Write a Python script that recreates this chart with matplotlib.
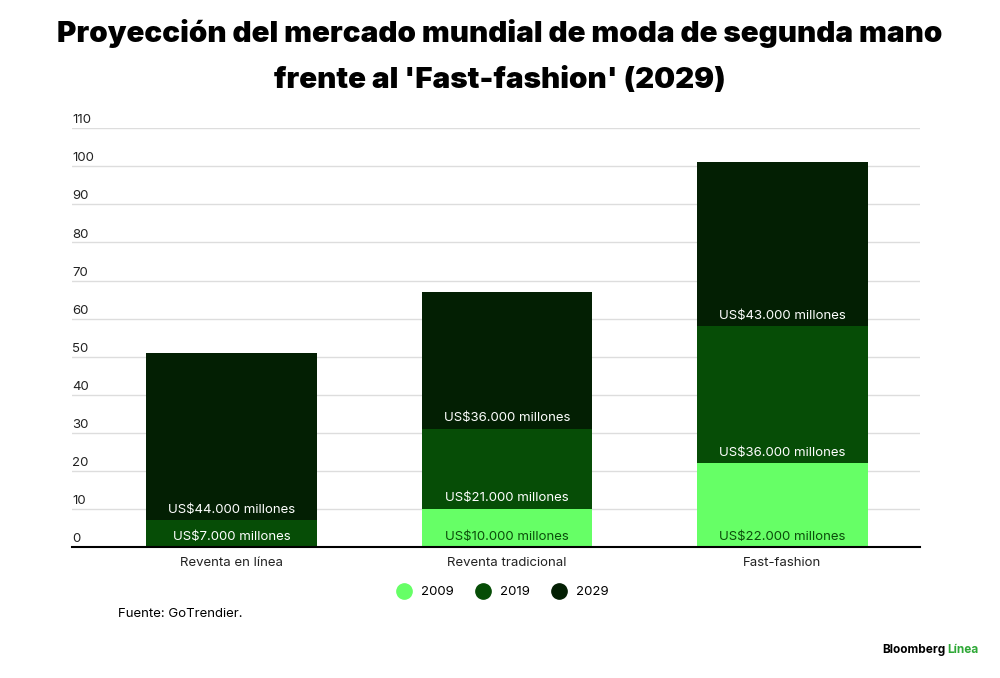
import matplotlib
matplotlib.use('Agg')
import matplotlib.pyplot as plt
import numpy as np

plt.rcParams['font.family'] = ['Inter', 'DejaVu Sans']

categories = ['Reventa en línea', 'Reventa tradicional', 'Fast-fashion']
years = ['2009', '2019', '2029']
v2009 = [0, 10, 22]
v2019 = [7, 21, 36]
v2029 = [44, 36, 43]
colors = ['#66ff66', '#064d06', '#031f03']
label_colors = ['#0b4d0b', 'white', 'white']

fig = plt.figure(figsize=(10, 6.78), dpi=100)
ax = fig.add_axes([0.072, 0.193, 0.848, 0.618])

x = np.arange(len(categories))
bottom = np.zeros(len(categories))
for vals, col, lc, yr in zip([v2009, v2019, v2029], colors, label_colors, years):
    vals = np.array(vals, dtype=float)
    ax.bar(x, vals, 0.62, bottom=bottom, color=col, label=yr, zorder=3)
    for xi, b, v in zip(x, bottom, vals):
        if v > 0:
            ax.text(xi, b + 1.2, 'US$%d.000 millones' % v, ha='center', va='bottom',
                    color=lc, fontsize=9.5, zorder=4)
    bottom += vals

ax.set_xlim(-0.58, 2.5)
ax.set_ylim(0, 110)
ax.set_yticks(range(0, 111, 10))
ax.set_yticklabels([])
for t in range(0, 111, 10):
    ax.text(-0.58, t + 0.5, str(t), ha='left', va='bottom', fontsize=9.5, color='#222222')
    if t > 0:
        ax.axhline(t, color='#dddddd', lw=1, zorder=1)
ax.tick_params(left=False, bottom=False)
ax.set_xticks(x)
ax.set_xticklabels(categories, fontsize=9.5, color='#222222')
for s in ['top', 'right', 'left']:
    ax.spines[s].set_visible(False)
ax.spines['bottom'].set_color('black')
ax.spines['bottom'].set_linewidth(1.5)
ax.spines['bottom'].set_zorder(5)

handles = [plt.Line2D([], [], marker='o', ls='', markersize=11, color=c) for c in colors]
fig.legend(handles, years, loc='center', bbox_to_anchor=(0.5, 1 - 592 / 678), ncol=3,
           frameon=False, fontsize=9.5, handletextpad=0.3, columnspacing=1.2)

fig.text(0.5, 1 - 33 / 678, 'Proyección del mercado mundial de moda de segunda mano',
         ha='center', va='center', fontsize=21.3, fontweight='black')
fig.text(0.5, 1 - 80 / 678, "frente al 'Fast-fashion' (2029)",
         ha='center', va='center', fontsize=21.3, fontweight='black')
fig.text(0.118, 1 - 614 / 678, 'Fuente: GoTrendier.', ha='left', va='center', fontsize=9.5)
fig.text(0.882, 1 - 650 / 678, 'Bloomberg', ha='left', va='center', fontsize=8.5, fontweight='bold')
fig.text(0.947, 1 - 650 / 678, 'Línea', ha='left', va='center', fontsize=8.5,
         fontweight='bold', color='#2ea836')

fig.savefig('out.png', dpi=100)
